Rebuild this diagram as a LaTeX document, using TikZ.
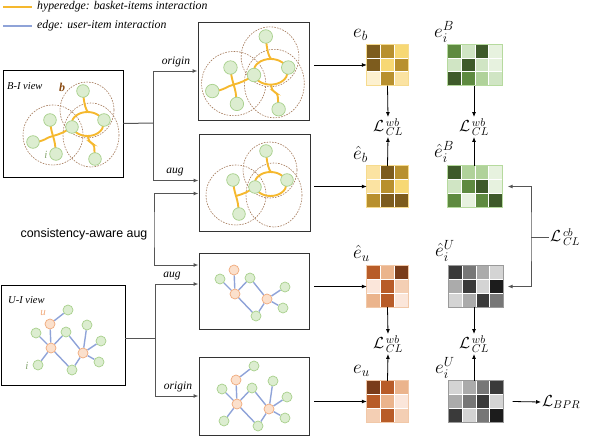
\RequirePackage{fix-cm}
\documentclass[tikz,border=0pt]{standalone}
\usepackage{fontspec}
\setmainfont{Liberation Serif}
\newfontfamily\arialfont{Liberation Sans}
\usetikzlibrary{arrows.meta,calc}
\pgfdeclarelayer{bg}
\pgfsetlayers{bg,main}
\definecolor{hyperc}{HTML}{F5B82E}
\definecolor{edgec}{HTML}{8FA3D8}
\definecolor{gfill}{HTML}{DCEDD0}
\definecolor{gline}{HTML}{A8D08C}
\definecolor{ufill}{HTML}{FBE0CC}
\definecolor{uline}{HTML}{F0AA7C}
\definecolor{circc}{HTML}{A47A5A}
\definecolor{bcol}{HTML}{8A4B12}
\definecolor{treec}{HTML}{555555}
% yellow
\definecolor{Ya}{HTML}{7D5C1E}
\definecolor{Yb}{HTML}{B8902E}
\definecolor{Yc}{HTML}{F7D874}
\definecolor{Yd}{HTML}{FDF1D0}
\definecolor{Ye}{HTML}{FBE3A2}
\definecolor{Yborder}{HTML}{F6DB8E}
% green
\definecolor{Ga}{HTML}{3E5A2A}
\definecolor{Gb}{HTML}{5E8A40}
\definecolor{Gc}{HTML}{B0D29A}
\definecolor{Gd}{HTML}{D0E5C4}
\definecolor{Ge}{HTML}{E7F2DF}
\definecolor{Gborder}{HTML}{B6DA9E}
% orange
\definecolor{Oa}{HTML}{7A3C1A}
\definecolor{Ob}{HTML}{B85C28}
\definecolor{Oc}{HTML}{EBB48C}
\definecolor{Od}{HTML}{FBE6DA}
\definecolor{Oe}{HTML}{F4CFB4}
\definecolor{Oborder}{HTML}{F1C8A8}
% gray
\definecolor{Ka}{HTML}{3A3A3A}
\definecolor{Kb}{HTML}{777777}
\definecolor{Kc}{HTML}{ABABAB}
\definecolor{Kd}{HTML}{D4D4D4}
\definecolor{Ke}{HTML}{1C1C1C}
\definecolor{Kborder}{HTML}{9A9A9A}

\newcommand\cellgrid[4]{%
  \foreach \cc [count=\k from 0] in {#3} {%
    \pgfmathtruncatemacro\colno{mod(\k,#2)}%
    \pgfmathtruncatemacro\rowno{div(\k,#2)}%
    \fill[\cc, draw=white, line width=0.9pt] ($(#1.north west)+(\colno*13.8,\rowno*13.8)$) rectangle ++(13.8,13.8);%
  }%
  \draw[#4, line width=0.8pt] (#1.north west) rectangle (#1.south east);%
}

\newcommand\bgraph[4]{%
\begin{scope}[shift={#2}, scale=#3, transform shape]
  \node[gnode] (#1T) at (11,-36) {};
  \node[gnode] (#1R) at (32,-7) {};
  \node[gnode] (#1C) at (0,0) {};
  \node[gnode] (#1LU) at (-22,-7) {};
  \ifnum#4=1 \node[gnode] (#1L) at (-39,15) {};\fi
  \node[gnode] (#1BL) at (-16,27) {};
  \ifnum#4=1 \node[gnode] (#1BR) at (23,32) {};\fi
  \begin{pgfonlayer}{bg}
  \draw[hcirc] (-19,8) circle [radius=30];
  \draw[hcirc] (15,-17) ellipse [x radius=27, y radius=28];
  \draw[hcirc] (19,8) ellipse [x radius=28, y radius=32];
  \draw[hyperln] (15.5,-3) ellipse [x radius=16, y radius=12];
  \draw[hyperln] (#1T.center) .. controls (12,-22) and (14,-17) .. (16,-15);
  \ifnum#4=1 \draw[hyperln, rounded corners=3] (16,9) -- (17,15) -- (22,17) -- (#1BR.center);\fi
  \draw[hyperln] (#1LU.center) .. controls (-21,2) .. (-19,9);
  \ifnum#4=1 \draw[hyperln] (#1L.center) .. controls (-28,15) and (-25,10) .. (-19,9);\fi
  \draw[hyperln] (#1BL.center) .. controls (-17,16) .. (-19,9);
  \draw[hyperln] (-19,9) .. controls (-12,7) and (-7,5) .. (#1C.center);
  \end{pgfonlayer}
\end{scope}}

\newcommand\ugraph[3]{%
\begin{scope}[shift={#2}]
  \node[unode] (#1U1) at (-1,-24) {};
  \node[unode] (#1U2) at (0,0) {};
  \node[unode] (#1U3) at (32,5) {};
  \node[gsnode] (#1I2) at (-15,-15) {};
  \node[gsnode] (#1I3) at (15,-16) {};
  \node[gsnode] (#1I5) at (21,22) {};
  \node[gsnode] (#1I7) at (50,-7) {};
  \node[gsnode] (#1I8) at (48,14) {};
  \ifnum#3=1
  \node[gsnode] (#1I1) at (17,-38) {};
  \node[gsnode] (#1I4) at (-13,17) {};
  \node[gsnode] (#1I6) at (36,-23) {};
  \fi
  \begin{pgfonlayer}{bg}
  \draw[edgeln] (#1U1) -- (#1U2);
  \draw[edgeln] (#1I2) -- (#1U2);
  \draw[edgeln] (#1I3) -- (#1U2);
  \draw[edgeln] (#1U2) -- (#1I5);
  \draw[edgeln] (#1I5) -- (#1U3);
  \draw[edgeln] (#1I3) -- (#1U3);
  \draw[edgeln] (#1U3) -- (#1I7);
  \draw[edgeln] (#1U3) -- (#1I8);
  \ifnum#3=1
  \draw[edgeln] (#1U1) -- (#1I1);
  \draw[edgeln] (#1U2) -- (#1I4);
  \draw[edgeln] (#1U3) -- (#1I6);
  \fi
  \end{pgfonlayer}
\end{scope}}

\begin{document}
\begin{tikzpicture}[x=1pt,y=-1pt,
  hyperln/.style={hyperc, line width=1.9pt},
  edgeln/.style={edgec, line width=1.4pt},
  hcirc/.style={circc, line width=0.6pt, dash pattern=on 1.6pt off 1.2pt},
  gnode/.style={circle, fill=gfill, draw=gline, line width=0.7pt, minimum size=12.6pt, inner sep=0pt},
  gsnode/.style={circle, fill=gfill, draw=gline, line width=0.7pt, minimum size=10pt, inner sep=0pt},
  unode/.style={circle, fill=ufill, draw=uline, line width=0.7pt, minimum size=10pt, inner sep=0pt},
  viewbox/.style={draw=black, line width=0.9pt, inner sep=0pt},
  subbox/.style={draw=black!80, line width=0.9pt, inner sep=0pt},
  treeln/.style={treec, line width=1pt},
  arr/.style={-{Latex[length=5pt,width=4pt]}},
  legtxt/.style={font=\fontsize{11.8}{13}\selectfont\itshape, inner sep=0pt},
  viewlbl/.style={font=\fontsize{10.5}{12}\selectfont\itshape, inner sep=0pt},
  brlbl/.style={font=\fontsize{11.5}{13}\selectfont\itshape, inner sep=1pt},
  mlbl/.style={font=\fontsize{19}{21}\selectfont, inner sep=0pt},
  llbl/.style={font=\fontsize{16}{18}\selectfont, inner sep=1pt},
  mat3/.style={minimum width=41.4pt, minimum height=41.4pt, inner sep=0pt, outer sep=0pt},
  mat4/.style={minimum width=55.2pt, minimum height=41.4pt, inner sep=0pt, outer sep=0pt}
]
\useasboundingbox (0,0) rectangle (594,436);

% legend
\node[legtxt, anchor=west] (leg1) at (37,7) {hyperedge: basket-items interaction};
\node[legtxt, anchor=west] (leg2) at (37,26) {edge: user-item interaction};
\draw[hyperc, line width=1.8pt] ([xshift=-34pt]leg1.west) -- ([xshift=-5pt]leg1.west);
\draw[edgec, line width=1.8pt] ([xshift=-34pt]leg2.west) -- ([xshift=-5pt]leg2.west);

% boxes
\node[viewbox, minimum width=120pt, minimum height=107pt] (bi) at (63,123.5) {};
\node[viewbox, minimum width=124pt, minimum height=100pt] (ui) at (63,335) {};
\node[subbox, minimum width=111pt, minimum height=98pt] (orig) at (253.5,71) {};
\node[subbox, minimum width=111pt, minimum height=97pt] (augb) at (254.5,182.5) {};
\node[subbox, minimum width=110pt, minimum height=76pt] (uaug) at (254,291) {};
\node[subbox, minimum width=110pt, minimum height=78pt] (uorig) at (254,396) {};

\node[viewlbl, anchor=west] (bilbl) at (7,86) {B-I view};
\node[viewlbl, anchor=west] (uilbl) at (8,300) {U-I view};

% graphs
\bgraph{bv}{(72,127)}{1}{1}
\bgraph{bo}{(254,75)}{1.07}{1}
\bgraph{ba}{(255,187)}{1}{0}
\node[font=\fontsize{12}{14}\selectfont\bfseries\itshape, text=bcol, inner sep=0pt] (blbl) at (62,87) {b};
\node[font=\fontsize{11}{13}\selectfont\itshape, text=gline!80!black, inner sep=0pt] (ilbl) at (46,155) {i};

\ugraph{uv}{(51,348)}{1}
\ugraph{uo}{(237,404)}{1}
\ugraph{ua}{(235,294)}{0}
\node[font=\fontsize{11}{13}\selectfont\itshape, text=uline, inner sep=0pt] (ulbl) at (43,313) {u};
\node[font=\fontsize{11}{13}\selectfont\itshape, text=gline!80!black, inner sep=0pt] (ilbl2) at (27,366) {i};

% tree connectors
\coordinate (jb) at (153,123);
\draw[treeln] (bi.east) -- (jb);
\draw[treeln, arr] (jb) |- (orig.west);
\draw[treeln, arr] (jb) |- ([yshift=2pt]augb.west);
\node[brlbl] (lorig1) at (176,62) {origin};
\node[brlbl] (laug1) at (175,172) {aug};

\coordinate (ju) at (155,338);
\draw[treeln] ([yshift=-3pt]ui.east) -- (ju);
\draw[treeln, arr] (ju) |- ([yshift=7pt]uaug.west);
\draw[treeln, arr] (ju) |- (uorig.west);
\node[brlbl] (laug2) at (172,276) {aug};
\node[brlbl] (lorig2) at (178,387) {origin};

% consistency-aware aug
\coordinate (jc) at (154,230);
\draw[treeln, {Latex[length=5pt,width=4pt]}-{Latex[length=5pt,width=4pt]}] ([yshift=-11pt]augb.west) -| (jc) |- ([yshift=26pt]uaug.west);
\node[font=\arialfont\fontsize{12.4}{14}\selectfont, inner sep=0pt] (cons) at (84,234) {consistency-aware aug};

% matrices
\node[mat3] (eb) at (387.5,65) {};
\node[mat4] (eiB) at (475,65) {};
\node[mat3] (heb) at (387.5,186.5) {};
\node[mat4] (heiB) at (475,186.5) {};
\node[mat3] (heu) at (387.5,286.5) {};
\node[mat4] (heiU) at (476,286.5) {};
\node[mat3] (eu) at (387.5,401.5) {};
\node[mat4] (eiU) at (476,401.5) {};

\cellgrid{eb}{3}{Ya,Yb,Yc,Ya,Yc,Yb,Yd,Yb,Ye}{Yborder}
\cellgrid{heb}{3}{Ye,Ya,Yb,Ye,Yb,Yc,Yb,Ya,Ya}{Yborder}
\cellgrid{eiB}{4}{Gb,Gd,Ga,Ge,Gd,Ga,Gd,Ge,Ga,Gb,Gc,Gd}{Gborder}
\cellgrid{heiB}{4}{Ga,Gc,Gc,Ge,Gd,Gb,Ga,Ge,Gb,Ge,Gb,Ga}{Gborder}
\cellgrid{heu}{3}{Ob,Oc,Oa,Od,Ob,Oe,Oc,Ob,Od}{Oborder}
\cellgrid{eu}{3}{Oa,Ob,Oc,Ob,Oc,Od,Oe,Ob,Oe}{Oborder}
\cellgrid{heiU}{4}{Ka,Kb,Kc,Kd,Kc,Ka,Kd,Ke,Kd,Kc,Ka,Kb}{Kborder}
\cellgrid{eiU}{4}{Kd,Kc,Kb,Ka,Kc,Kb,Ka,Kd,Ka,Kd,Kb,Ke}{Kborder}

% matrix labels
\node[mlbl, anchor=west] (leb) at (353,35) {$e_b$};
\node[mlbl, anchor=west] (leiB) at (434,32) {$e_i^B$};
\node[mlbl, anchor=west] (lheb) at (353,154) {$\hat{e}_b$};
\node[mlbl, anchor=west] (lheiB) at (434,152) {$\hat{e}_i^B$};
\node[mlbl, anchor=west] (lheu) at (353,253) {$\hat{e}_u$};
\node[mlbl, anchor=west] (lheiU) at (435,251) {$\hat{e}_i^U$};
\node[mlbl, anchor=west] (leu) at (353,371) {$e_u$};
\node[mlbl, anchor=west] (leiU) at (435,368) {$e_i^U$};

% box -> matrix arrows
\draw[arr, line width=0.8pt] ([xshift=5pt]orig.east |- eb.west) -- (eb.west);
\draw[arr, line width=0.8pt] ([xshift=4pt]augb.east |- heb.west) -- (heb.west);
\draw[arr, line width=0.8pt] ([xshift=5pt]uaug.east |- heu.west) -- (heu.west);
\draw[arr, line width=0.8pt] ([xshift=5pt]uorig.east |- eu.west) -- (eu.west);

% loss labels
\node[llbl] (lw1) at (388,127) {$\mathcal{L}^{\,wb}_{\,CL}$};
\node[llbl] (lw2) at (474,127) {$\mathcal{L}^{\,wb}_{\,CL}$};
\node[llbl] (lw3) at (388,344) {$\mathcal{L}^{\,wb}_{\,CL}$};
\node[llbl] (lw4) at (474,344) {$\mathcal{L}^{\,wb}_{\,CL}$};
\draw[arr, line width=0.8pt] (eb.south) -- (lw1.north);
\draw[arr, line width=0.8pt] (heb.north) -- (lw1.south);
\draw[arr, line width=0.8pt] (eiB.south -| lw2) -- (lw2.north);
\draw[arr, line width=0.8pt] (heiB.north -| lw2) -- (lw2.south);
\draw[arr, line width=0.8pt] (heu.south) -- (lw3.north);
\draw[arr, line width=0.8pt] (eu.north) -- (lw3.south);
\draw[arr, line width=0.8pt] (heiU.south -| lw4) -- (lw4.north);
\draw[arr, line width=0.8pt] (eiU.north -| lw4) -- (lw4.south);

% cross-view loss
\coordinate (jcb) at (531,237);
\draw[treeln, {Latex[length=5pt,width=4pt]}-{Latex[length=5pt,width=4pt]}] ([xshift=5pt]heiB.east) -| (jcb) |- ([xshift=4pt]heiU.east);
\node[llbl, anchor=west] (lcb) at (549,237) {$\mathcal{L}^{\,cb}_{\,CL}$};
\draw[treeln] (jcb) -- (lcb.west);

% BPR
\node[llbl, anchor=west] (lbpr) at (541,402) {$\mathcal{L}_{BPR}$};
\draw[arr, line width=0.8pt] ([xshift=9pt]eiU.east) -- (lbpr.west);
\end{tikzpicture}
\end{document}
